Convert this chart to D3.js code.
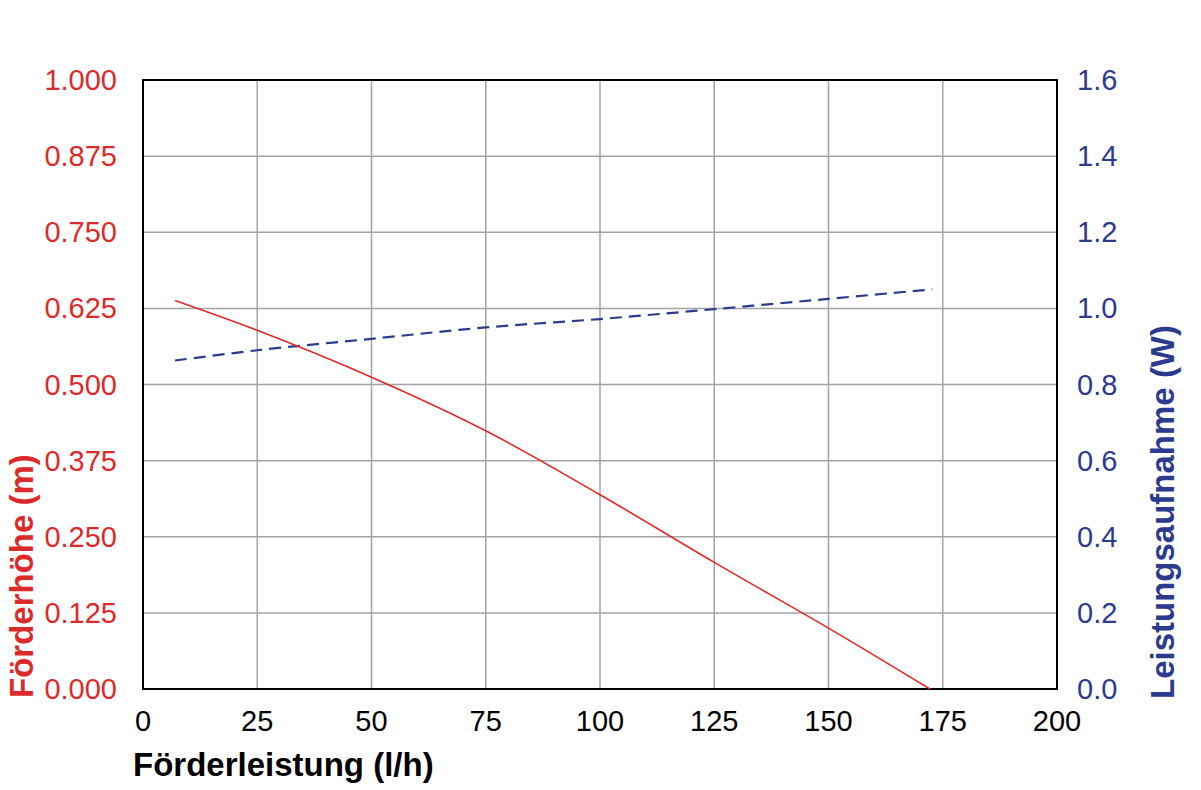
<!DOCTYPE html>
<html>
<head>
<meta charset="utf-8">
<script src="https://cdn.jsdelivr.net/npm/d3@7"></script>
<style>
  body { margin: 0; background: #fff; }
  svg text { font-family: "Liberation Sans", Arial, sans-serif; }
</style>
</head>
<body>
<svg id="chart" width="1201" height="790"></svg>
<script>
// x values (l/h) and the two curves
const flowHead = [7, 25, 50, 75, 100, 125, 150, 172.2];
const headValues = [0.638, 0.589, 0.512, 0.424, 0.319, 0.208, 0.100, 0];
const flowPower = [7, 25, 50, 75, 100, 125, 150, 172.7];
const powerValues = [0.863, 0.890, 0.920, 0.950, 0.972, 0.998, 1.025, 1.050];

const xTicks = [0, 25, 50, 75, 100, 125, 150, 175, 200];
const leftTicks = [0, 0.125, 0.25, 0.375, 0.5, 0.625, 0.75, 0.875, 1];
const rightTicks = [0, 0.2, 0.4, 0.6, 0.8, 1.0, 1.2, 1.4, 1.6];

const red = "#dc2a2a", blue = "#2c3b8e";
const plotL = 143, plotR = 1057, plotT = 80, plotB = 689;

const svg = d3.select("#chart");
const x = d3.scaleLinear().domain([0, 200]).range([plotL, plotR]);
const yL = d3.scaleLinear().domain([0, 1]).range([plotB, plotT]);
const yR = d3.scaleLinear().domain([0, 1.6]).range([plotB, plotT]);

// grid
svg.append("g").selectAll("line").data(xTicks.slice(1, -1)).enter().append("line")
    .attr("x1", d => x(d)).attr("x2", d => x(d))
    .attr("y1", plotT).attr("y2", plotB)
    .attr("stroke", "#a3a3a3").attr("stroke-width", 1.5);
svg.append("g").selectAll("line").data(leftTicks.slice(1, -1)).enter().append("line")
    .attr("x1", plotL).attr("x2", plotR)
    .attr("y1", d => yL(d)).attr("y2", d => yL(d))
    .attr("stroke", "#a3a3a3").attr("stroke-width", 1.5);

// frame
svg.append("rect")
    .attr("x", plotL).attr("y", plotT)
    .attr("width", plotR - plotL).attr("height", plotB - plotT)
    .attr("fill", "none").attr("stroke", "#000").attr("stroke-width", 2);

// tick labels
svg.append("g").selectAll("text").data(xTicks).enter().append("text")
    .attr("x", d => x(d)).attr("y", 731)
    .attr("text-anchor", "middle").attr("font-size", 29).attr("fill", "#000")
    .text(d => d);
svg.append("g").selectAll("text").data(leftTicks).enter().append("text")
    .attr("x", 117).attr("y", d => yL(d) + 10)
    .attr("text-anchor", "end").attr("font-size", 29).attr("fill", red)
    .text(d => d3.format(".3f")(d));
svg.append("g").selectAll("text").data(rightTicks).enter().append("text")
    .attr("x", 1077).attr("y", d => yR(d) + 10)
    .attr("text-anchor", "start").attr("font-size", 29).attr("fill", blue)
    .text(d => d3.format(".1f")(d));

// axis titles
svg.append("text")
    .attr("x", 133).attr("y", 776)
    .attr("font-size", 33).attr("font-weight", "bold").attr("fill", "#000")
    .text("Förderleistung (l/h)");
svg.append("text")
    .attr("transform", "translate(33,698) rotate(-90)")
    .attr("font-size", 33).attr("font-weight", "bold").attr("fill", red)
    .text("Förderhöhe (m)");
svg.append("text")
    .attr("transform", "translate(1174,699) rotate(-90)")
    .attr("font-size", 33).attr("font-weight", "bold").attr("fill", blue)
    .text("Leistungsaufnahme (W)");

// curves
const headLine = d3.line().x(d => x(d[0])).y(d => yL(d[1])).curve(d3.curveCatmullRom);
const powerLine = d3.line().x(d => x(d[0])).y(d => yR(d[1])).curve(d3.curveCatmullRom);

svg.append("path")
    .datum(d3.zip(flowPower, powerValues))
    .attr("d", powerLine)
    .attr("fill", "none").attr("stroke", blue).attr("stroke-width", 2.2)
    .attr("stroke-dasharray", "12,7");
svg.append("path")
    .datum(d3.zip(flowHead, headValues))
    .attr("d", headLine)
    .attr("fill", "none").attr("stroke", red).attr("stroke-width", 1.6);
</script>
</body>
</html>
